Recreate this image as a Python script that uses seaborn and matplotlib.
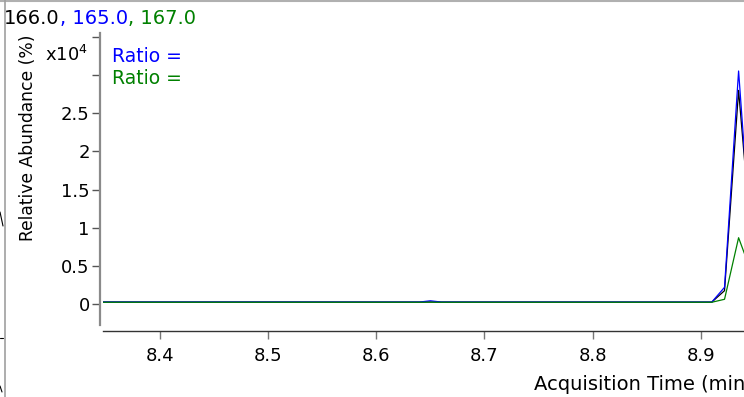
import numpy as np
import pandas as pd
import seaborn as sns
import matplotlib.pyplot as plt
from matplotlib.lines import Line2D

# retention time (min) and abundance (counts) for the three ions
times = [8.30, 8.40, 8.50, 8.60, 8.640, 8.650, 8.660, 8.70, 8.80, 8.9102, 8.9220, 8.9350, 8.9472]
ion_166 = [260, 250, 255, 250, 250, 270, 250, 250, 250, 250, 1750, 28000, 7700]
ion_165 = [260, 260, 260, 255, 260, 420, 260, 255, 255, 250, 2190, 30540, 6550]
ion_167 = [230, 230, 230, 230, 230, 240, 230, 230, 230, 230, 620, 8690, 4000]
ion_names = ['166.0', '165.0', '167.0']
ion_colors = ['#000000', '#0000ff', '#008000']

x_ticks = [8.4, 8.5, 8.6, 8.7, 8.8, 8.9]
y_ticks = [0, 0.5, 1, 1.5, 2, 2.5, 3, 3.5]
y_ticklabels = ['0', '0.5', '1', '1.5', '2', '2.5', '', '']

#长表
df = pd.DataFrame({
    'time': times * 3,
    'abund': np.array(ion_166 + ion_165 + ion_167) / 1e4,
    'ion': [ion_names[0]] * len(times) + [ion_names[1]] * len(times) + [ion_names[2]] * len(times),
})

sns.set_style('white')
plt.rcParams['font.family'] = ['DejaVu Sans']
plt.rcParams['text.color'] = 'black'
plt.rcParams['xtick.color'] = 'black'
plt.rcParams['ytick.color'] = 'black'

W, H = 744, 397
fig = plt.figure(figsize=(W / 100, H / 100), dpi=100)
ax = fig.add_axes([103 / W, (H - 325) / H, (744 - 103) / W, 292 / H])

sns.lineplot(data=df, x='time', y='abund', hue='ion', hue_order=ion_names,
             palette=dict(zip(ion_names, ion_colors)), linewidth=0.9,
             legend=False, ax=ax, estimator=None, sort=False)

ax.set_xlim(8.3473, 8.9400)
ax.set_ylim(-0.275, 3.552)
ax.set_xticks(x_ticks)
ax.set_xticklabels([f'{t:.1f}' for t in x_ticks])
ax.set_yticks(y_ticks)
ax.set_yticklabels(y_ticklabels)
ax.set_xlabel('')
ax.set_ylabel('')

ax.spines['top'].set_visible(False)
ax.spines['right'].set_visible(False)
ax.spines['left'].set_position(('outward', 2.5))
ax.spines['left'].set_color('#8a8a8a')
ax.spines['left'].set_linewidth(1.6)
ax.spines['bottom'].set_position(('outward', 4))
ax.spines['bottom'].set_color('#333333')
ax.spines['bottom'].set_linewidth(1.0)
ax.tick_params(axis='x', direction='out', length=6, width=1, color='#777777',
               labelsize=13, pad=6, bottom=True)
ax.tick_params(axis='y', direction='out', length=6, width=1, color='#555555',
               labelsize=13, pad=1, left=True)

# title, ion colours one after the other
t1 = fig.text(4 / W, 1 - 18 / H, ion_names[0], fontsize=14, color=ion_colors[0], va='center', ha='left')
t2 = ax.annotate(', ' + ion_names[1], xy=(1, 0), xycoords=t1, va='bottom', ha='left',
                 fontsize=14, color=ion_colors[1], annotation_clip=False)
t3 = ax.annotate(', ' + ion_names[2], xy=(1, 0), xycoords=t2, va='bottom', ha='left',
                 fontsize=14, color=ion_colors[2], annotation_clip=False)

fig.text(112 / W, 1 - 56 / H, 'Ratio =', fontsize=13.5, color='#0000ff', va='center', ha='left')
fig.text(112 / W, 1 - 79 / H, 'Ratio =', fontsize=13.5, color='#008000', va='center', ha='left')
fig.text(45 / W, 1 - 55 / H, r'x10$^4$', fontsize=13, color='#000000', va='center', ha='left')
fig.text(28 / W, 1 - 138 / H, 'Relative Abundance (%)', fontsize=12.3, rotation=90,
         va='center', ha='center')
fig.text(534 / W, 1 - 385 / H, 'Acquisition Time (min)', fontsize=14, va='center', ha='left')

# frame bits of the neighbouring panel
fig.add_artist(Line2D([0, 1], [1 - 0.5 / H, 1 - 0.5 / H], color='#b0b0b0', lw=1.5))
fig.add_artist(Line2D([4.5 / W, 4.5 / W], [0, 1], color='#a0a0a0', lw=1.2))
fig.add_artist(Line2D([0, 3 / W], [1 - 212 / H, 1 - 226 / H], color='#000000', lw=0.8))
fig.add_artist(Line2D([0, 3 / W], [1 - 338 / H, 1 - 338 / H], color='#000000', lw=0.8))
fig.add_artist(Line2D([0, 2 / W], [1 - 386 / H, 1 - 392 / H], color='#000000', lw=0.8))

fig.savefig('out.png', dpi=100)
